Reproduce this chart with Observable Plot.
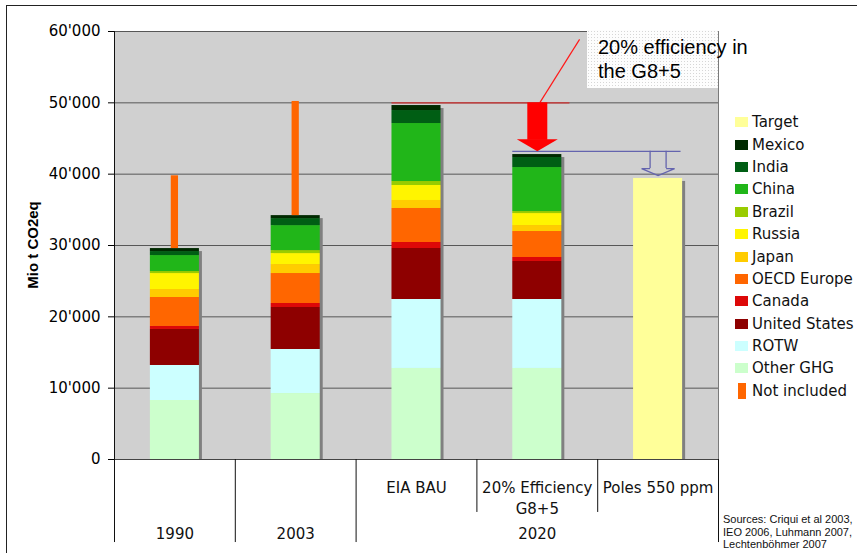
<!DOCTYPE html>
<html>
<head>
<meta charset="utf-8">
<script src="https://cdn.jsdelivr.net/npm/d3@7"></script>
<script src="https://cdn.jsdelivr.net/npm/@observablehq/plot@0.6"></script>
<style>
  html, body { margin: 0; padding: 0; background: #fff; overflow: hidden; }
  #chart { position: relative; width: 857px; height: 553px; overflow: hidden; font-family: "DejaVu Sans", Verdana, sans-serif; }
  #border { position: absolute; left: 6px; top: 5px; width: 1000px; height: 800px; border: 1px solid #222; }
  #chart svg { position: absolute; left: 0; }
  #ylabel { position: absolute; left: 32px; top: 245px; transform: translate(-50%, -50%) rotate(-90deg);
            font: bold 15px "Liberation Sans", Arial, sans-serif; white-space: nowrap; color: #000; }
  #note { position: absolute; left: 587px; top: 30px; width: 131px; height: 58px; box-sizing: border-box;
          padding: 5px 0 0 11px; font: 20px/24px "Liberation Sans", Arial, sans-serif; color: #000; white-space: nowrap;
          background-color: #fdfdfd;
          background-image: radial-gradient(circle, #d6d6d6 0.7px, transparent 0.9px);
          background-size: 3px 3px; }
  #legend { position: absolute; left: 735px; top: 111px; }
  .row { display: flex; align-items: center; height: 22.4px; font-size: 15px; color: #111; white-space: nowrap; }
  .sw { width: 13px; height: 10px; margin-right: 4px; flex: none; }
  .sw.thin { width: 8px; height: 16px; margin: 0 6px 0 3px; }
  #sources { position: absolute; left: 723px; top: 513px; font: 11px/12.5px "Liberation Sans", Arial, sans-serif;
             color: #111; white-space: nowrap; }
</style>
</head>
<body>
<div id="chart">
  <div id="border"></div>
</div>
<script>
// Emissions by region, Mio t CO2eq, stacked from the bottom up
const categories = ["1990", "2003", "EIA BAU", "20% Efficiency G8+5", "Poles 550 ppm"];
const subLabels = ["", "", "EIA BAU", "20% Efficiency\nG8+5", "Poles 550 ppm"];
const groupLabels = ["1990", "2003", "2020"];
const groupSizes = [1, 1, 3];

const otherGhg     = [8270, 9250, 12760, 12760, 0];
const rotw         = [4910, 6170, 9670, 9670, 0];
const unitedStates = [5050, 5890, 7150, 5330, 0];
const canada       = [420, 560, 840, 560, 0];
const oecdEurope   = [4060, 4200, 4770, 3640, 0];
const japan        = [1120, 1260, 1120, 840, 0];
const russia       = [2240, 1540, 2100, 1680, 0];
const brazil       = [280, 420, 560, 280, 0];
const china        = [2240, 3500, 8130, 6170, 0];
const india        = [560, 980, 1820, 1400, 0];
const mexico       = [420, 420, 700, 420, 0];
const target       = [0, 0, 0, 0, 39400];
const notIncluded  = [10200, 16000, 0, 0, 0];

const yTicks = [0, 10000, 20000, 30000, 40000, 50000, 60000];

// Reference levels for the annotations
const bauLevel = 50000;         // 2020 business-as-usual ceiling
const efficiencyLevel = 43200;  // level after 20% efficiency in the G8+5
const targetArrowTip = 39800;   // where the hollow arrow points to
const noteAnchor = 58900;       // leader line end at the note box

const layers = [
  {name: "Other GHG", color: "#ccffcc", values: otherGhg},
  {name: "ROTW", color: "#ccffff", values: rotw},
  {name: "United States", color: "#8e0000", values: unitedStates},
  {name: "Canada", color: "#dd0808", values: canada},
  {name: "OECD Europe", color: "#ff6600", values: oecdEurope},
  {name: "Japan", color: "#ffcc00", values: japan},
  {name: "Russia", color: "#fff500", values: russia},
  {name: "Brazil", color: "#99cc00", values: brazil},
  {name: "China", color: "#21b619", values: china},
  {name: "India", color: "#005e14", values: india},
  {name: "Mexico", color: "#002a00", values: mexico},
  {name: "Target", color: "#ffff99", values: target}
];
const notIncludedColor = "#ff6600";

// Stack the layers per category
const segments = [];
const totals = [];
categories.forEach((cat, i) => {
  let base = 0;
  for (const layer of layers) {
    const v = layer.values[i];
    if (v > 0) {
      segments.push({i, name: layer.name, y1: base, y2: base + v, color: layer.color});
      base += v;
    }
  }
  totals.push({i, total: base});
});
const extras = totals
  .map(t => ({i: t.i, y1: t.total, y2: t.total + notIncluded[t.i]}))
  .filter(d => d.y2 > d.y1);

const half = 0.203;      // bar half-width, in category units
const thin = 0.03;       // "not included" half-width
const center = i => i + 0.5;
const fmt = d => d3.format(",")(d).replace(/,/g, "'");

const iBau = categories.indexOf("EIA BAU");
const iEff = categories.indexOf("20% Efficiency G8+5");
const iPol = categories.indexOf("Poles 550 ppm");

const redHead = {draw(ctx) { ctx.moveTo(0, 0); ctx.lineTo(-20.5, -12); ctx.lineTo(20.5, -12); ctx.closePath(); }};
const hollowHead = {draw(ctx) {
  ctx.moveTo(-8, -7); ctx.lineTo(-16.5, -7); ctx.lineTo(0, 0); ctx.lineTo(16.5, -7); ctx.lineTo(8, -7);
}};
const blue = "#6464ae";

const main = Plot.plot({
  width: 857, height: 460,
  marginLeft: 114, marginRight: 139, marginTop: 31, marginBottom: 1,
  style: {fontFamily: "'DejaVu Sans', Verdana, sans-serif", fontSize: "15px", overflow: "visible", background: "transparent", color: "#000"},
  x: {domain: [0, categories.length], axis: null},
  y: {domain: [0, 60000], ticks: yTicks, tickFormat: fmt, tickSize: 6, tickPadding: 8, label: null},
  color: {type: "identity"},
  marks: [
    Plot.frame({fill: "#d0d0d0", stroke: "#7a7a7a"}),
    Plot.ruleY(yTicks, {stroke: "#575757"}),
    // drop shadows
    Plot.rectY(totals, {x1: d => center(d.i) - half, x2: d => center(d.i) + half, y1: 0, y2: "total", dx: 3, insetTop: 3, fill: "#808080"}),
    Plot.rectY(segments, {x1: d => center(d.i) - half, x2: d => center(d.i) + half, y1: "y1", y2: "y2", fill: "color"}),
    Plot.rectY(extras, {x1: d => center(d.i) - thin, x2: d => center(d.i) + thin, y1: "y1", y2: "y2", fill: notIncludedColor}),
    Plot.ruleX([0], {stroke: "#111"}),
    Plot.ruleY([0], {stroke: "#444"}),
    // 2020 ceiling and efficiency reduction
    Plot.ruleY([bauLevel], {x1: center(iBau) - half, x2: iEff + 0.77, stroke: "#d03030", strokeWidth: 1.2}),
    Plot.link([{x1: center(iEff) + 0.02, y1: bauLevel, x2: iEff + 0.85, y2: noteAnchor}],
      {x1: "x1", y1: "y1", x2: "x2", y2: "y2", stroke: "#ff1a1a", strokeWidth: 1.2}),
    Plot.ruleX([center(iEff)], {y1: bauLevel, y2: efficiencyLevel, stroke: "#ff0000", strokeWidth: 20, insetBottom: 11}),
    Plot.ruleY([efficiencyLevel], {x1: center(iEff) - half, x2: iPol + 0.69, stroke: blue, strokeWidth: 1.2}),
    Plot.dot([{x: center(iEff), y: efficiencyLevel}], {x: "x", y: "y", symbol: redHead, fill: "#ff0000", stroke: "none"}),
    // hollow arrow towards the target
    Plot.ruleX([center(iPol)], {y1: efficiencyLevel, y2: targetArrowTip, dx: -8, insetBottom: 7, stroke: blue, strokeWidth: 1.3}),
    Plot.ruleX([center(iPol)], {y1: efficiencyLevel, y2: targetArrowTip, dx: 8, insetBottom: 7, stroke: blue, strokeWidth: 1.3}),
    Plot.dot([{x: center(iPol), y: targetArrowTip}], {x: "x", y: "y", symbol: hollowHead, fill: "none", stroke: blue, strokeWidth: 1.3})
  ]
});
main.style.top = "0px";

// Two-tier category axis below the plot
const groupEdges = [0];
groupSizes.forEach(s => groupEdges.push(groupEdges[groupEdges.length - 1] + s));
const dividers = [];
categories.forEach((c, i) => { if (!groupEdges.includes(i)) dividers.push({at: i, tier: 1}); });
groupEdges.forEach(e => dividers.push({at: e, tier: 2}));
const groupCenters = groupLabels.map((g, k) => ({label: g, x: (groupEdges[k] + groupEdges[k + 1]) / 2}));

const axisBelow = Plot.plot({
  width: 857, height: 94,
  marginLeft: 114, marginRight: 139, marginTop: 0, marginBottom: 0,
  style: {fontFamily: "'DejaVu Sans', Verdana, sans-serif", fontSize: "15px", fontWeight: "normal", overflow: "visible", background: "transparent", color: "#111"},
  x: {domain: [0, categories.length], axis: null},
  y: {domain: [0, 3], reverse: true, axis: null},
  marks: [
    Plot.ruleX(dividers, {x: "at", y1: 0, y2: d => d.tier === 1 ? 1.69 : 2.65, stroke: "#111"}),
    Plot.text(subLabels.map((s, i) => ({s, x: center(i)})).filter(d => d.s), {x: "x", y: 0.585, text: "s", lineAnchor: "top", lineHeight: 1.4, fill: "#111", fontWeight: "normal"}),
    Plot.text(groupCenters, {x: "x", y: 2.368, text: "label", lineAnchor: "middle", fill: "#111", fontWeight: "normal"})
  ]
});
axisBelow.style.top = "459px";

const chart = document.getElementById("chart");
chart.appendChild(main);
chart.appendChild(axisBelow);

const ylabel = document.createElement("div");
ylabel.id = "ylabel";
ylabel.textContent = "Mio t CO2eq";
chart.appendChild(ylabel);

const note = document.createElement("div");
note.id = "note";
note.innerHTML = "20% efficiency in<br>the G8+5";
chart.appendChild(note);

// Legend, top to bottom
const legend = document.createElement("div");
legend.id = "legend";
[...layers].reverse().concat([{name: "Not included", color: notIncludedColor, thin: true}]).forEach(l => {
  const row = document.createElement("div");
  row.className = "row";
  const sw = document.createElement("span");
  sw.className = "sw" + (l.thin ? " thin" : "");
  sw.style.background = l.color;
  const label = document.createElement("span");
  label.textContent = l.name;
  row.appendChild(sw);
  row.appendChild(label);
  legend.appendChild(row);
});
chart.appendChild(legend);

const sources = document.createElement("div");
sources.id = "sources";
sources.innerHTML = "Sources: Criqui et al 2003,<br>IEO 2006, Luhmann 2007,<br>Lechtenböhmer 2007";
chart.appendChild(sources);
</script>
</body>
</html>
